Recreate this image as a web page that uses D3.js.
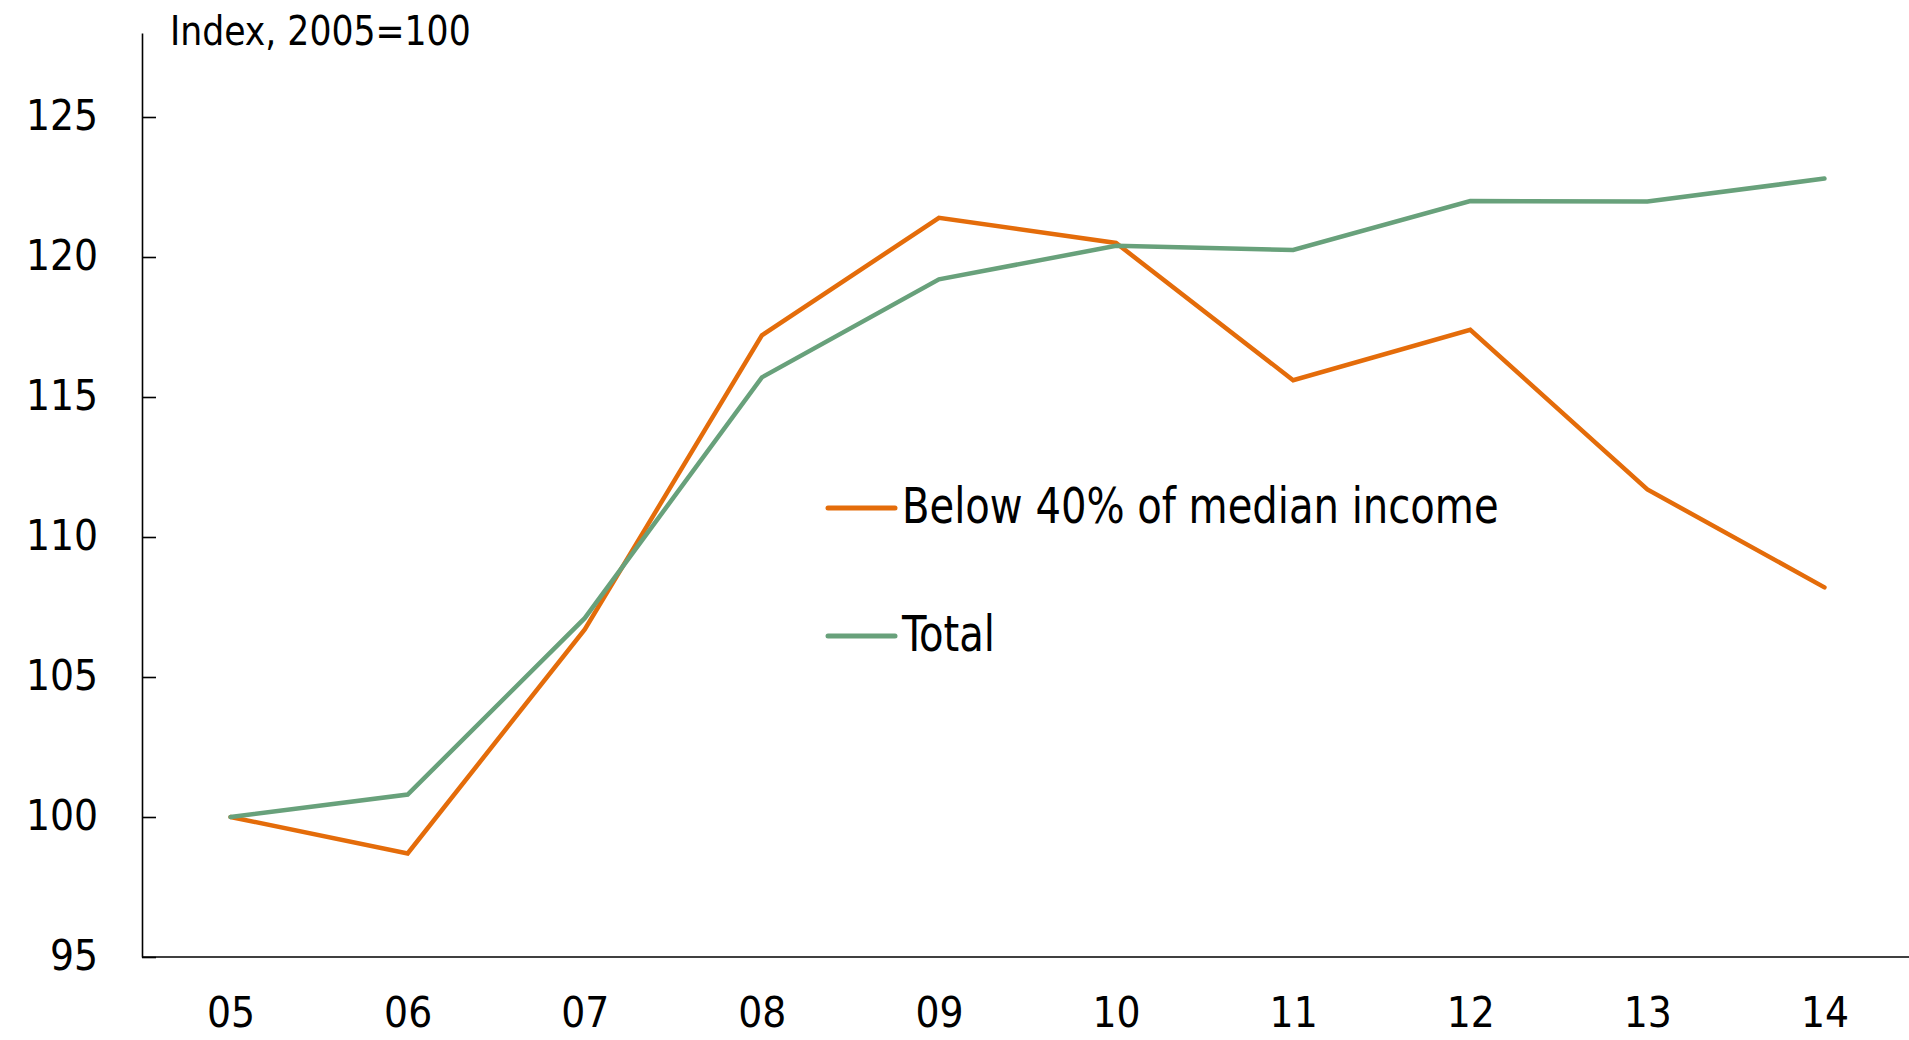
<!DOCTYPE html>
<html>
<head>
<meta charset="utf-8">
<script src="https://cdn.jsdelivr.net/npm/d3@7"></script>
<style>
  html, body { margin: 0; padding: 0; background: #fff; }
  svg text { font-family: "DejaVu Sans Condensed", "Liberation Sans Narrow", "Roboto", sans-serif; fill: #000; }
</style>
</head>
<body>
<svg id="chart" width="1909" height="1040"></svg>
<script>
const years = ["05", "06", "07", "08", "09", "10", "11", "12", "13", "14"];
const below40 = [100, 98.7, 106.7, 117.2, 121.4, 120.5, 115.6, 117.4, 111.7, 108.2];
const total = [100, 100.8, 107.1, 115.7, 119.2, 120.4, 120.25, 122.0, 121.98, 122.8];
const yTicks = [95, 100, 105, 110, 115, 120, 125];
const seriesNames = ["Below 40% of median income", "Total"];
const seriesColors = ["#E46C0A", "#68A17B"];

(function () {
const svg = d3.select("#chart");
const W = 1909;
const mLeft = 142, mRight = 1913, mTop = 33, mBottom = 957;

const x = d3.scalePoint().domain(years).range([mLeft, mRight]).padding(0.5);
const y = d3.scaleLinear().domain([95, 128]).range([mBottom, mTop]);

// Y axis
const yAxis = svg.append("g")
  .attr("transform", `translate(${mLeft},0)`)
  .call(d3.axisLeft(y).tickValues(yTicks).tickSizeInner(-14).tickSizeOuter(0).tickPadding(44));
yAxis.select(".domain").attr("stroke", "#000").attr("stroke-width", 1.6);
yAxis.selectAll(".tick line").attr("stroke", "#000").attr("stroke-width", 1.6);
yAxis.selectAll(".tick text").style("font-size", "42px").attr("dy", "0.3em");

// X axis
const xAxis = svg.append("g")
  .attr("transform", `translate(0,${mBottom})`)
  .call(d3.axisBottom(x).tickSize(0).tickPadding(40));
xAxis.select(".domain").attr("d", `M${mLeft},0H${W}`).attr("stroke", "#000").attr("stroke-width", 1.6);
xAxis.selectAll(".tick text").style("font-size", "42px");

// Title
svg.append("text")
  .attr("transform", "translate(170,45) scale(0.94,1)")
  .style("font-size", "41px")
  .text("Index, 2005=100");

// Lines
const line = d3.line().x((d, i) => x(years[i])).y(d => y(d));
[below40, total].forEach((s, k) => {
  svg.append("path")
    .datum(s)
    .attr("fill", "none")
    .attr("stroke", seriesColors[k])
    .attr("stroke-width", 4.5)
    .attr("stroke-linejoin", "miter")
    .attr("stroke-linecap", "round")
    .attr("d", line);
});

// Legend
const legendY = [508, 636];
seriesNames.forEach((name, k) => {
  const g = svg.append("g").attr("transform", `translate(0,${legendY[k]})`);
  g.append("line")
    .attr("x1", 828).attr("x2", 895).attr("y1", 0).attr("y2", 0)
    .attr("stroke", seriesColors[k]).attr("stroke-width", 5).attr("stroke-linecap", "round");
  g.append("text")
    .attr("transform", "translate(902,15) scale(0.91,1)")
    .style("font-size", "49px")
    .text(name);
});
})();
</script>
</body>
</html>
